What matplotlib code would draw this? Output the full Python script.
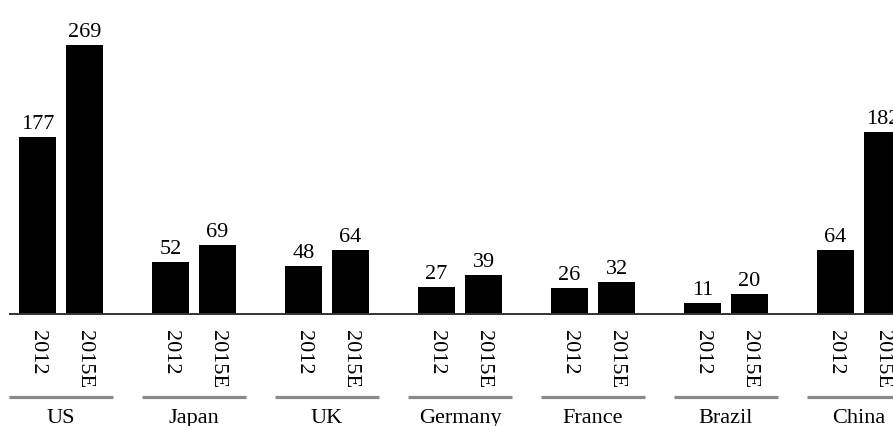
import numpy as np
import matplotlib.pyplot as plt

# values
countries = ["US", "Japan", "UK", "Germany", "France", "Brazil", "China"]
years = ["2012", "2015E"]
v2012 = [177, 52, 48, 27, 26, 11, 64]
v2015 = [269, 69, 64, 39, 32, 20, 182]

plt.rcParams['font.family'] = ['Liberation Serif', 'DejaVu Serif']

W, H = 893, 427
fig = plt.figure(figsize=(W/100, H/100), dpi=100)
# baseline sits 112 px above the bottom, 1 unit = 1 px vertically
ax = fig.add_axes([0, 112/H, 1, 315/H])

gp = 133.0          # group pitch in px
x0 = 61.0           # centre of first group in px
ax.set_xlim(-x0/gp, (W - x0)/gp)
ax.set_ylim(0, 315)

g = np.arange(len(countries))
off = 23.5/gp
bw = 37/gp
fs = 16

b1 = ax.bar(g - off, v2012, width=bw, color="black")
b2 = ax.bar(g + off, v2015, width=bw, color="black")
for bars, vals in ((b1, v2012), (b2, v2015)):
    for r, v in zip(bars, vals):
        ax.annotate(str(v), (r.get_x() + r.get_width()/2, v),
                    xytext=(0, 4), textcoords="offset pixels",
                    ha="center", va="bottom", fontsize=fs)

for s in ax.spines.values():
    s.set_visible(False)
ax.set_yticks([])

# baseline
ax.plot([(10 - x0)/gp, (W - x0)/gp], [0, 0], color="#333333", lw=1.4,
        clip_on=False)

ticks = np.concatenate([g - off, g + off])
labels = [years[0]]*len(g) + [years[1]]*len(g)
ax.set_xticks(ticks)
ax.set_xticklabels(labels, rotation=270, fontsize=fs, va="top")
ax.tick_params(axis="x", length=0, pad=10.5)

# group underlines and names
for i, c in enumerate(countries):
    ax.plot([i - 52/gp, i + 52/gp], [-83, -83], color="#8a8a8a", lw=2.3,
            clip_on=False, solid_capstyle="butt")
    ax.text(i, -104, c, ha="center", va="center", fontsize=fs)

fig.savefig("out.png", dpi=100)
